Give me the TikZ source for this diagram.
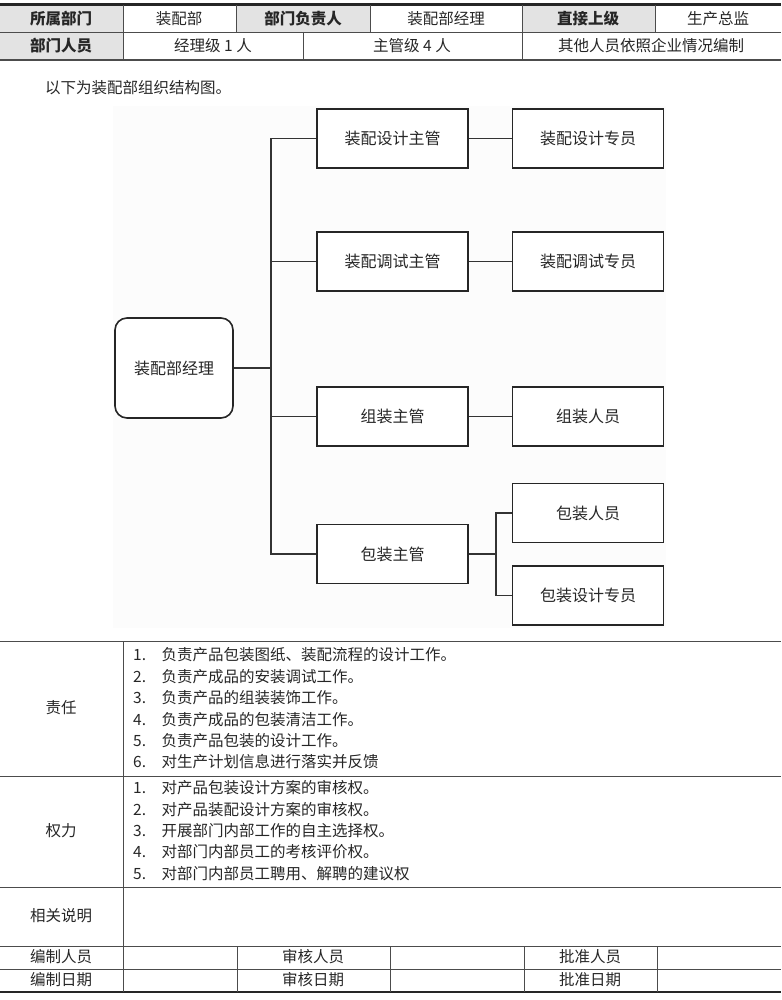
\documentclass[tikz,border=0pt]{standalone}
\usepackage{fontspec}
\setmainfont{Noto Sans CJK SC}

\tikzset{
  cell/.style={text=black!85, inner sep=0pt, font=\fontsize{15.5}{18}\selectfont},
  head/.style={cell, font=\fontsize{15.5}{18}\selectfont\bfseries},
  items/.style={cell, anchor=west, align=left, font=\fontsize{15.5}{21.4}\selectfont},
  rule/.style={draw=black!70, line width=0.8pt},
  heavy/.style={draw=black!85, line width=2.6pt},
  headfill/.style={fill=gray!22},
  post/.style={draw=black!85, line width=1.6pt, fill=white, minimum width=151pt, minimum height=59pt, text=black!85, font=\fontsize{16}{18}\selectfont},
  boss/.style={post, rounded corners=12pt, minimum width=118pt, minimum height=100pt},
  link/.style={draw=black!80, line width=1.1pt}
}

\begin{document}
\begin{tikzpicture}[x=1pt, y=-1pt]
        \useasboundingbox (0,0) rectangle (781,1000);

        % Top table
        \fill[headfill] (0,5) rectangle (123,32);
        \fill[headfill] (236,5) rectangle (370,32);
        \fill[headfill] (522,5) rectangle (655,32);
        \fill[headfill] (0,32) rectangle (123,60);
        \draw[heavy] (0,4.5) -- (781,4.5);
        \draw[rule] (0,32) -- (781,32);
        \draw[rule, line width=1.2pt] (0,60) -- (781,60);
        \draw[rule] (123,5) -- (123,60);
        \draw[rule] (236,5) -- (236,32);
        \draw[rule] (370,5) -- (370,32);
        \draw[rule] (303,32) -- (303,60);
        \draw[rule] (522,5) -- (522,60);
        \draw[rule] (655,5) -- (655,32);

        \node (dept) [head] at (61,19) {所属部门};
        \node (deptv) [cell] at (179,19) {装配部};
        \node (lead) [head] at (303,19) {部门负责人};
        \node (leadv) [cell] at (446,19) {装配部经理};
        \node (upper) [head] at (588,19) {直接上级};
        \node (upperv) [cell] at (718,19) {生产总监};
        \node (staff) [head] at (61,46) {部门人员};
        \node (staffa) [cell] at (213,46) {经理级 1 人};
        \node (staffb) [cell] at (412,46) {主管级 4 人};
        \node (staffc) [cell] at (651,46) {其他人员依照企业情况编制};

        \node (intro) [cell, anchor=west] at (45,88) {以下为装配部组织结构图。};

        % Chart background
        \fill[gray!2.5] (113,106) rectangle (666,628);

        % Nodes
        \node (mgr) [boss] at (174,368) {装配部经理};
        \node (d1) [post] at (392.5,138.5) {装配设计主管};
        \node (d2) [post] at (392.5,261.5) {装配调试主管};
        \node (d3) [post] at (392.5,416.5) {组装主管};
        \node (d4) [post] at (392.5,554) {包装主管};
        \node (e1) [post] at (588,138.5) {装配设计专员};
        \node (e2) [post] at (588,261.5) {装配调试专员};
        \node (e3) [post] at (588,416.5) {组装人员};
        \node (p1) [post] at (588,513) {包装人员};
        \node (p2) [post] at (588,595.5) {包装设计专员};
        \coordinate (bus) at (271,0);
        \coordinate (fork) at (496,0);

        % Edges
        \draw[link] (mgr.east) -- (mgr.east -| bus);
        \draw[link] (d1.west) -- (d1.west -| bus) -- (d4.west -| bus) -- (d4.west);
        \draw[link] (d2.west) -- (d2.west -| bus);
        \draw[link] (d3.west) -- (d3.west -| bus);
        \draw[link] (d1) -- (e1);
        \draw[link] (d2) -- (e2);
        \draw[link] (d3) -- (e3);
        \draw[link] (d4.east) -- (d4.east -| fork);
        \draw[link] (p1.west) -- (p1.west -| fork) -- (p2.west -| fork) -- (p2.west);

        % Bottom table
        \draw[rule] (0,641) -- (781,641);
        \draw[rule] (0,776) -- (781,776);
        \draw[rule] (0,887) -- (781,887);
        \draw[rule] (0,946) -- (781,946);
        \draw[rule] (0,969) -- (781,969);
        \draw[heavy] (0,992) -- (781,992);
        \draw[rule] (123,641) -- (123,992);
        \draw[rule] (237,946) -- (237,992);
        \draw[rule] (390,946) -- (390,992);
        \draw[rule] (524,946) -- (524,992);
        \draw[rule] (657,946) -- (657,992);

        \node (duty) [cell] at (61,708) {责任};
        \node (dutyv) [items] at (133,708.5) {1.\quad 负责产品包装图纸、装配流程的设计工作。\\2.\quad 负责产成品的安装调试工作。\\3.\quad 负责产品的组装装饰工作。\\4.\quad 负责产成品的包装清洁工作。\\5.\quad 负责产品包装的设计工作。\\6.\quad 对生产计划信息进行落实并反馈};
        \node (power) [cell] at (61,831) {权力};
        \node (powerv) [items] at (133,830.6) {1.\quad 对产品包装设计方案的审核权。\\2.\quad 对产品装配设计方案的审核权。\\3.\quad 开展部门内部工作的自主选择权。\\4.\quad 对部门内部员工的考核评价权。\\5.\quad 对部门内部员工聘用、解聘的建议权};
        \node (note) [cell] at (61,916) {相关说明};
        \node (maker) [cell] at (61,957) {编制人员};
        \node (makedate) [cell] at (61,980) {编制日期};
        \node (checker) [cell] at (313,957) {审核人员};
        \node (checkdate) [cell] at (313,980) {审核日期};
        \node (approver) [cell] at (590,957) {批准人员};
        \node (approvedate) [cell] at (590,980) {批准日期};

\end{tikzpicture}
\end{document}
